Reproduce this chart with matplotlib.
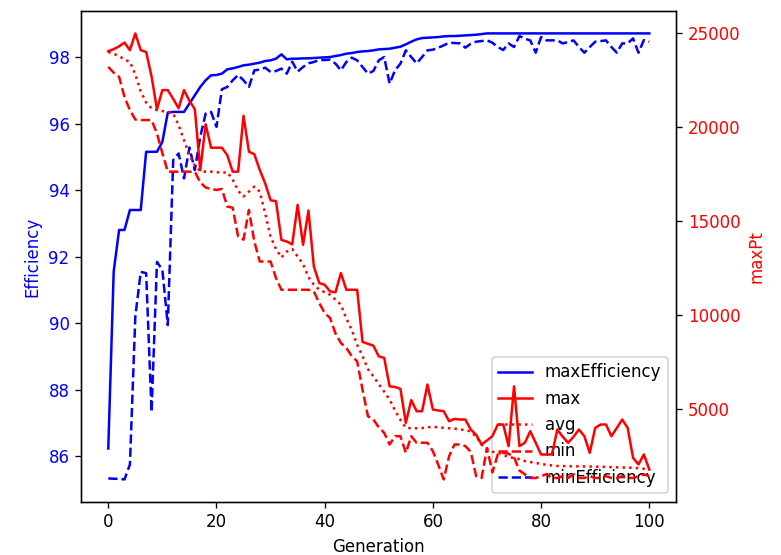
import numpy as np
import matplotlib
matplotlib.use("Agg")
import matplotlib.pyplot as plt

################################ data ################################

gen = list(range(0, 101))

max_efficiency = [
    86.23, 91.55, 92.8, 92.8, 93.4, 93.4, 93.4, 95.15, 95.15, 95.15,
    95.45, 96.33, 96.35, 96.35, 96.35, 96.6, 96.85, 97.1, 97.3, 97.45,
    97.46, 97.5, 97.63, 97.66, 97.7, 97.75, 97.77, 97.8, 97.83, 97.88,
    97.9, 97.95, 98.08, 97.93, 97.95, 97.95, 97.96, 97.96, 97.97, 97.98,
    97.99, 98.0, 98.03, 98.06, 98.1, 98.12, 98.15, 98.17, 98.18, 98.2,
    98.23, 98.24, 98.25, 98.28, 98.31, 98.38, 98.46, 98.53, 98.57, 98.58,
    98.59, 98.6, 98.62, 98.63, 98.63, 98.64, 98.65, 98.66, 98.67, 98.69,
    98.71, 98.71, 98.71, 98.71, 98.71, 98.71, 98.71, 98.71, 98.71, 98.71,
    98.71, 98.71, 98.71, 98.71, 98.71, 98.71, 98.71, 98.71, 98.71, 98.71,
    98.71, 98.71, 98.71, 98.71, 98.71, 98.71, 98.71, 98.71, 98.71, 98.71,
    98.71,
]

min_efficiency = [
    85.33, 85.32, 85.32, 85.3, 85.75, 90.2, 91.54, 91.5, 87.33, 91.84,
    91.6, 89.94, 94.9, 95.1, 94.35, 95.28, 94.6, 95.6, 96.3, 96.35,
    95.9, 97.03, 97.1, 97.3, 97.46, 97.3, 97.1, 97.6, 97.62, 97.68,
    97.55, 97.58, 97.65, 97.5, 97.86, 97.56, 97.7, 97.81, 97.85, 97.91,
    97.91, 97.92, 97.8, 97.6, 97.85, 97.98, 97.9, 97.7, 97.5, 97.58,
    97.9, 98.0, 97.2, 97.6, 97.8, 98.2, 98.0, 97.81, 98.0, 98.2,
    98.22, 98.28, 98.35, 98.43, 98.42, 98.41, 98.28, 98.4, 98.46, 98.48,
    98.5, 98.43, 98.3, 98.21, 98.41, 98.3, 98.63, 98.55, 98.5, 98.13,
    98.6, 98.5, 98.5, 98.5, 98.41, 98.45, 98.5, 98.3, 98.13, 98.3,
    98.46, 98.48, 98.5, 98.3, 98.13, 98.41, 98.41, 98.56, 98.13, 98.51,
    98.46,
]

pt_max = [
    24043, 24150, 24300, 24500, 24096, 24990, 24096, 24000, 22700, 20950,
    21968, 21968, 21500, 21000, 21968, 21400, 20950, 17700, 20150, 18900,
    18900, 18900, 18500, 17622, 17622, 20600, 18686, 18550, 17713, 17000,
    16100, 16050, 13990, 13900, 13750, 15850, 13723, 15550, 12570, 11686,
    11596, 11240, 11200, 12218, 11330, 11330, 11330, 8550, 8450, 8350,
    7780, 7700, 6186, 6150, 6050, 4240, 5450, 4857, 4857, 6277,
    4947, 4900, 4857, 4325, 4450, 4415, 4415, 3883, 3600, 3085,
    3300, 3527, 4150, 4150, 3000, 6186, 3000, 3176, 3793, 3176,
    2553, 2553, 2553, 3883, 3500, 3176, 3500, 3883, 3527, 2642,
    3970, 4150, 4150, 3527, 3970, 4415, 3970, 2377, 2022, 2553,
    1755,
]

pt_avg = [
    24005, 23900, 23780, 23600, 23473, 22800, 21900, 21300, 21000, 20900,
    20850, 20800, 20729, 20100, 19300, 18500, 17950, 17650, 17622, 17622,
    17600, 17560, 17600, 17200, 16600, 16300, 16560, 16824, 16560, 15400,
    14165, 13500, 13050, 13367, 13500, 13101, 12700, 12000, 11600, 11330,
    11200, 11065, 10800, 10532, 9800, 9202, 8400, 7800, 7100, 6718,
    6300, 5900, 5479, 4900, 4400, 3973, 3950, 3950, 3960, 4000,
    4027, 4000, 3970, 3950, 3930, 3883, 3850, 3780, 3500, 3085,
    2820, 2700, 2642, 2550, 2400, 2377, 2300, 2200, 2150, 2100,
    2050, 2000, 1970, 1940, 1933, 1930, 1925, 1920, 1915, 1910,
    1905, 1900, 1890, 1880, 1870, 1860, 1850, 1845, 1820, 1790,
    1755,
]

pt_min = [
    23208, 22900, 22676, 21600, 20900, 20400, 20373, 20373, 20373, 19665,
    18601, 17622, 17622, 17622, 17622, 17622, 17622, 17050, 16780, 16700,
    16649, 16700, 15763, 15700, 14165, 14000, 15585, 13899, 12835, 12835,
    12835, 11953, 11330, 11330, 11330, 11330, 11330, 11330, 11240, 10620,
    10090, 9825, 9000, 8495, 8230, 7800, 7516, 6000, 4590, 4415,
    4000, 3707, 3085, 3527, 3527, 2642, 3527, 3176, 3176, 3176,
    2730, 2000, 1224, 2464, 3085, 3085, 3000, 2700, 1400, 1300,
    2900, 1600, 2553, 2642, 2600, 2400, 1700, 1500, 1300, 1300,
    1400, 1500, 1300, 1300, 1400, 1300, 1500, 1300, 1300, 1400,
    1300, 1300, 1400, 1300, 1300, 1400, 1300, 1300, 1400, 1490,
    1400,
]

################################ drawing ################################

fig, ax1 = plt.subplots(figsize=(781 / 120, 555 / 120), dpi=120)
fig.subplots_adjust(left=0.104, right=0.866, top=0.980, bottom=0.096)

line1, = ax1.plot(gen, max_efficiency, "b-", label="maxEfficiency")
line5, = ax1.plot(gen, min_efficiency, "b--", label="minEfficiency")
ax1.set_xlabel("Generation")
ax1.set_ylabel("Efficiency", color="b")
for tl in ax1.get_yticklabels():
    tl.set_color("b")

ax2 = ax1.twinx()
line2, = ax2.plot(gen, pt_max, "r-", label="max")
line3, = ax2.plot(gen, pt_avg, "r:", label="avg")
line4, = ax2.plot(gen, pt_min, "r--", label="min")
ax2.set_ylabel("maxPt", color="r")
for tl in ax2.get_yticklabels():
    tl.set_color("r")

lns = [line1, line2, line3, line4, line5]
labs = [l.get_label() for l in lns]
ax1.legend(lns, labs, loc="lower right")

fig.savefig("out.png", dpi=120)
